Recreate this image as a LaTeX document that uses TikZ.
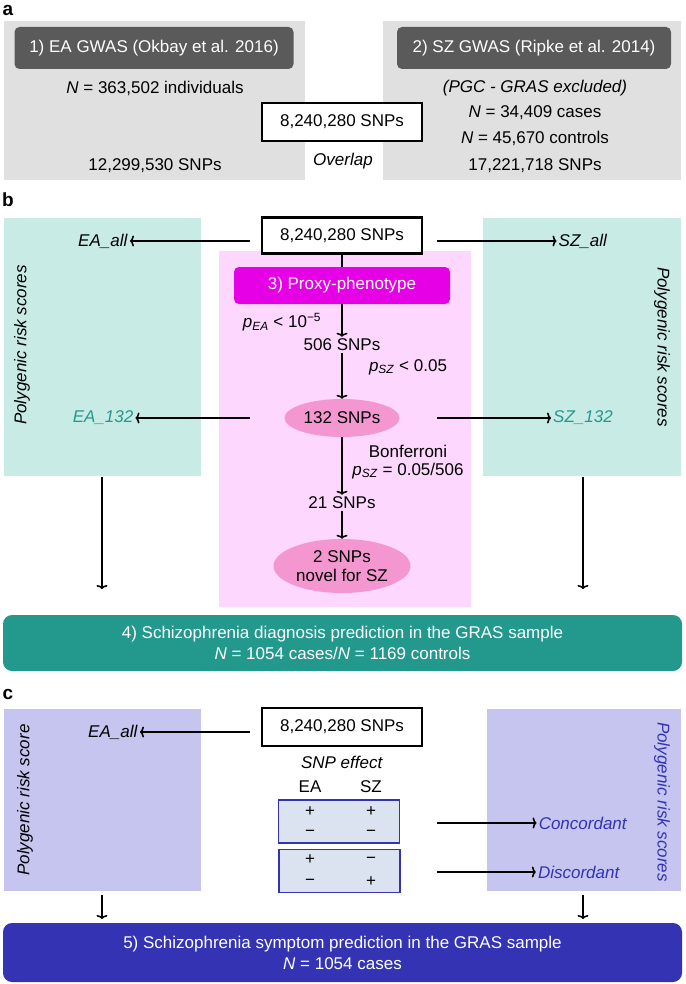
\documentclass[tikz,border=0pt]{standalone}
\usepackage{fontspec}
\setmainfont{Liberation Sans}
\usetikzlibrary{shapes.geometric, arrows, arrows.meta}
\definecolor{panelgray}{HTML}{E0E0E0}
\definecolor{darkgray}{HTML}{5A5A5A}
\definecolor{lightteal}{HTML}{C9EBE6}
\definecolor{darkteal}{HTML}{23998E}
\definecolor{lightpink}{HTML}{FDD7FD}
\definecolor{magentabox}{HTML}{E600E6}
\definecolor{pinkoval}{HTML}{F497D0}
\definecolor{lavender}{HTML}{C5C5F0}
\definecolor{darkblue}{HTML}{3333B3}
\definecolor{effectfill}{HTML}{DCE3F0}
\tikzstyle{header} = [rectangle, rounded corners=5pt, fill=darkgray, text=white, minimum width=279pt, minimum height=42pt]
\tikzstyle{snpbox} = [rectangle, draw=black, line width=2.5pt, fill=white, minimum width=160pt, minimum height=36pt]
\tikzstyle{oval} = [ellipse, fill=pinkoval, text centered, align=center, inner sep=0pt]
\tikzstyle{effect} = [rectangle, draw=darkblue, line width=1.5pt, fill=effectfill, minimum width=121pt, minimum height=43pt]
\tikzstyle{result} = [rectangle, rounded corners=9pt, text=white, minimum width=679pt, minimum height=56pt, align=center]
\tikzstyle{txt} = [inner sep=2pt]
\tikzstyle{arrow} = [line width=1.6pt, -{To[length=4pt,width=11pt]}]

\begin{document}
\begin{tikzpicture}[x=1pt, y=-1pt, font=\fontsize{17}{21}\selectfont]
\useasboundingbox (0,0) rectangle (685,984);

%% PANEL A

\node (a) [txt, font=\fontsize{19}{19}\selectfont\bfseries] at (8,10) {a};
\fill[panelgray] (4,21) rectangle (305,180);
\fill[panelgray] (383,21) rectangle (681,180);
\node (eagwas) [header] at (154,48) {1) EA GWAS (Okbay et al. 2016)};
\node (szgwas) [header, minimum width=274pt] at (534,48) {2) SZ GWAS (Ripke et al. 2014)};
\node (eaN) [txt] at (155,88) {\textit{N} = 363,502 individuals};
\node (easnp) [txt] at (155,166) {12,299,530 SNPs};
\node (pgc) [txt] at (535,88) {\textit{(PGC - GRAS excluded)}};
\node (szcases) [txt] at (535,113) {\textit{N} = 34,409 cases};
\node (szcontrols) [txt] at (535,138) {\textit{N} = 45,670 controls};
\node (szsnp) [txt] at (535,166) {17,221,718 SNPs};
\node (overlap_a) [snpbox, minimum height=38pt] at (342,122) {8,240,280 SNPs};
\node (overlap) [txt] at (343,161) {\textit{Overlap}};

%% PANEL B

\node (b) [txt, font=\fontsize{19}{19}\selectfont\bfseries] at (8,200) {b};
\fill[lightteal] (4,218) rectangle (201,476);
\fill[lightteal] (483,218) rectangle (681,476);
\fill[lightpink] (219,251) rectangle (471,607);
\node (snp_b) [snpbox] at (342,235.5) {8,240,280 SNPs};
\node (eaall) [txt] at (103,241) {\textit{EA\_all}};
\node (szall) [txt] at (583,241) {\textit{SZ\_all}};
\node (prs_l) [txt, rotate=90] at (22,345) {\textit{Polygenic risk scores}};
\node (prs_r) [txt, rotate=-90] at (662,347) {\textit{Polygenic risk scores}};
\node (proxy) [rectangle, rounded corners=5pt, fill=magentabox, text=white, minimum width=216pt, minimum height=37pt] at (342,285.5) {3) Proxy-phenotype};
\node (pea) [txt] at (282,322) {\textit{p}\textsubscript{\textit{EA}} < 10\textsuperscript{−5}};
\node (snp506) [txt] at (342,345) {506 SNPs};
\node (psz) [txt] at (408,367) {\textit{p}\textsubscript{\textit{SZ}} < 0.05};
\node (snp132) [oval, minimum width=115pt, minimum height=38pt] at (342,418) {132 SNPs};
\node (ea132) [txt, text=darkteal] at (103,418) {\textit{EA\_132}};
\node (sz132) [txt, text=darkteal] at (583,418) {\textit{SZ\_132}};
\node (bonf) [txt, align=center] at (408,462) {Bonferroni\\[-3pt]\textit{p}\textsubscript{\textit{SZ}} = 0.05/506};
\node (snp21) [txt] at (342,503) {21 SNPs};
\node (snp2) [oval, minimum width=137pt, minimum height=54pt, align=center] at (342,566) {2 SNPs\\[-2pt]novel for SZ};
\node (diag) [result, fill=darkteal] at (342.5,643) {4) Schizophrenia diagnosis prediction in the GRAS sample\\\textit{N} = 1054 cases/\textit{N} = 1169 controls};
\coordinate (teal_l) at (102,477);
\coordinate (teal_r) at (583,477);
\coordinate (b_lout) at (250,241);
\coordinate (b_rout) at (437,241);
\coordinate (b_l132) at (250,418);
\coordinate (b_r132) at (437,418);

%% PANEL C

\node (c) [txt, font=\fontsize{19}{19}\selectfont\bfseries] at (8,694) {c};
\fill[lavender] (4,709) rectangle (201,891);
\fill[lavender] (487,709) rectangle (681,891);
\node (snp_c) [snpbox, minimum height=38pt] at (342,727) {8,240,280 SNPs};
\node (eaall_c) [txt] at (113,732) {\textit{EA\_all}};
\node (prs_c) [txt, rotate=90] at (25,800) {\textit{Polygenic risk score}};
\node (prs_cr) [txt, rotate=-90, text=darkblue] at (662,802) {\textit{Polygenic risk scores}};
\node (effect) [txt] at (342,762) {\textit{SNP effect}};
\node (col_ea) [txt] at (310,787) {EA};
\node (col_sz) [txt] at (371,787) {SZ};
\node (conc) [effect] at (339,821.5) {};
\node (disc) [effect] at (339.5,871) {};
\foreach \x/\y/\s in {310/812/+, 371/812/+, 310/833/−, 371/833/−, 310/860/+, 371/860/−, 310/882/−, 371/882/+}
  \node [txt] at (\x,\y) {\s};
\node (concordant) [txt, text=darkblue] at (583,823) {\textit{Concordant}};
\node (discordant) [txt, text=darkblue] at (579,872) {\textit{Discordant}};
\node (symp) [result, fill=darkblue, minimum height=59pt] at (342.5,952.5) {5) Schizophrenia symptom prediction in the GRAS sample\\\textit{N} = 1054 cases};
\coordinate (c_lout) at (250,732);
\coordinate (c_conc) at (437,823);
\coordinate (c_disc) at (437,872);
\coordinate (lav_l) at (102,895);
\coordinate (lav_r) at (583,895);

%% ARROWS

\draw [arrow] (b_lout) -- (eaall.east);
\draw [arrow] (b_rout) -- (szall.west);
\draw [line width=1.6pt] (snp_b.south) -- (proxy.north);
\draw [arrow] (proxy) -- (snp506);
\draw [arrow] (snp506) -- (snp132);
\draw [arrow] (snp132) -- (snp21);
\draw [arrow] (snp21) -- (snp2);
\draw [arrow] (b_l132) -- (ea132.east);
\draw [arrow] (b_r132) -- (sz132.west);
\draw [arrow] (teal_l) -- ++(0,112);
\draw [arrow] (teal_r) -- ++(0,112);
\draw [arrow] (c_lout) -- (eaall_c.east);
\draw [arrow] (c_conc) -- (concordant.west);
\draw [arrow] (c_disc) -- (discordant.west);
\draw [arrow] (lav_l) -- ++(0,24);
\draw [arrow] (lav_r) -- ++(0,24);

\end{tikzpicture}
\end{document}
